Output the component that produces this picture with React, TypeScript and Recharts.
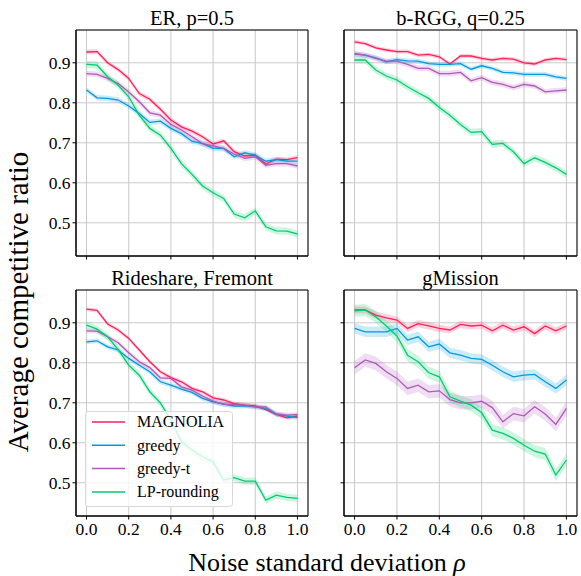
import React from 'react'
import {
  ComposedChart,
  Line,
  Area,
  XAxis,
  YAxis,
  CartesianGrid,
  ReferenceArea,
} from 'recharts'

// noise levels on the x axis
const rhos = [
  0.0, 0.05, 0.1, 0.15, 0.2, 0.25, 0.3, 0.35, 0.4, 0.45, 0.5, 0.55, 0.6, 0.65,
  0.7, 0.75, 0.8, 0.85, 0.9, 0.95, 1.0,
]
const xTicks = [0, 0.2, 0.4, 0.6, 0.8, 1.0]
const yTicks = [0.5, 0.6, 0.7, 0.8, 0.9]

const algoNames = ['MAGNOLIA', 'greedy', 'greedy-t', 'LP-rounding']
const algoColors = ['#ff1f5b', '#009ade', '#af58ba', '#00cd6c']

// ER, p=0.5
const erMagnolia = [0.927, 0.928, 0.9, 0.883, 0.861, 0.823, 0.809, 0.784, 0.757, 0.74, 0.729, 0.715, 0.697, 0.705, 0.678, 0.667, 0.669, 0.647, 0.659, 0.658, 0.663]
const erGreedy = [0.832, 0.8125, 0.811, 0.807, 0.792, 0.773, 0.751, 0.754, 0.736, 0.723, 0.704, 0.698, 0.686, 0.686, 0.665, 0.675, 0.669, 0.654, 0.658, 0.654, 0.654]
const erGreedyT = [0.873, 0.871, 0.861, 0.848, 0.827, 0.8025, 0.775, 0.769, 0.746, 0.732, 0.715, 0.698, 0.692, 0.686, 0.672, 0.661, 0.665, 0.644, 0.648, 0.648, 0.642]
const erLp = [0.896, 0.894, 0.865, 0.844, 0.815, 0.769, 0.736, 0.719, 0.686, 0.648, 0.621, 0.592, 0.575, 0.561, 0.522, 0.5125, 0.53, 0.49, 0.48, 0.479, 0.472]
const erBand = [0.006, 0.007, 0.007, 0.009]

// b-RGG, q=0.25
const rggMagnolia = [0.9525, 0.948, 0.9375, 0.932, 0.928, 0.928, 0.919, 0.921, 0.915, 0.897, 0.917, 0.917, 0.911, 0.907, 0.911, 0.909, 0.9, 0.897, 0.907, 0.911, 0.908]
const rggGreedy = [0.923, 0.919, 0.9125, 0.9025, 0.908, 0.905, 0.904, 0.898, 0.896, 0.896, 0.898, 0.884, 0.8925, 0.886, 0.876, 0.875, 0.871, 0.871, 0.871, 0.865, 0.861]
const rggGreedyT = [0.922, 0.919, 0.911, 0.904, 0.904, 0.896, 0.886, 0.886, 0.873, 0.873, 0.876, 0.855, 0.863, 0.851, 0.846, 0.838, 0.846, 0.842, 0.8275, 0.83, 0.832]
const rggLp = [0.907, 0.907, 0.882, 0.867, 0.857, 0.84, 0.825, 0.811, 0.788, 0.769, 0.746, 0.726, 0.728, 0.696, 0.6985, 0.6775, 0.648, 0.6625, 0.651, 0.6375, 0.621]
const rggBand = [0.005, 0.006, 0.007, 0.009]

// Rideshare, Fremont
const rsMagnolia = [0.934, 0.931, 0.897, 0.882, 0.861, 0.832, 0.8025, 0.7775, 0.763, 0.7525, 0.736, 0.7275, 0.7125, 0.707, 0.698, 0.694, 0.6925, 0.683, 0.671, 0.6625, 0.667]
const rsGreedy = [0.8525, 0.855, 0.84, 0.832, 0.811, 0.794, 0.7775, 0.7525, 0.744, 0.734, 0.726, 0.711, 0.7025, 0.697, 0.692, 0.6925, 0.69, 0.686, 0.671, 0.667, 0.663]
const rsGreedyT = [0.88, 0.879, 0.865, 0.85, 0.825, 0.8025, 0.788, 0.7625, 0.761, 0.74, 0.7315, 0.717, 0.704, 0.696, 0.696, 0.694, 0.69, 0.69, 0.672, 0.669, 0.671]
const rsLp = [0.894, 0.884, 0.865, 0.833, 0.794, 0.769, 0.7275, 0.7, 0.657, 0.6025, 0.582, 0.565, 0.5525, 0.507, 0.513, 0.504, 0.504, 0.4565, 0.469, 0.4635, 0.461]
const rsBand = [0.005, 0.006, 0.006, 0.009]

// gMission
const gmMagnolia = [0.932, 0.932, 0.919, 0.9125, 0.907, 0.886, 0.898, 0.8925, 0.886, 0.882, 0.896, 0.892, 0.894, 0.88, 0.894, 0.882, 0.89, 0.873, 0.892, 0.88, 0.892]
const gmGreedy = [0.886, 0.8775, 0.8775, 0.8775, 0.886, 0.857, 0.865, 0.84, 0.847, 0.825, 0.819, 0.811, 0.8085, 0.794, 0.7775, 0.765, 0.769, 0.771, 0.7525, 0.736, 0.757]
const gmGreedyT = [0.7875, 0.807, 0.7985, 0.7775, 0.761, 0.736, 0.744, 0.7275, 0.73, 0.708, 0.7, 0.7, 0.704, 0.688, 0.6525, 0.673, 0.6675, 0.69, 0.672, 0.646, 0.686]
const gmLp = [0.93, 0.932, 0.915, 0.892, 0.867, 0.819, 0.8025, 0.775, 0.765, 0.715, 0.704, 0.694, 0.675, 0.6315, 0.6235, 0.611, 0.594, 0.579, 0.572, 0.5195, 0.557]
const gmBand = [0.009, 0.013, 0.017, 0.015]

const FONT = "'Liberation Serif', 'Times New Roman', serif"
const X_DOMAIN: [number, number] = [-0.05, 1.05]
const Y_DOMAIN: [number, number] = [0.417, 0.982]
const Y_AXIS_W = 60
const X_AXIS_H = 40
const PAD = 5

const textStyle = (size: number) => ({ fontFamily: FONT, fontSize: size })

interface PanelProps {
  title: string
  series: number[][]
  band: number[]
  left: number
  top: number
  width: number
  height: number
  xLabels: boolean
  yLabels: boolean
}

function buildRows(series: number[][], band: number[]) {
  return rhos.map((x, i) => {
    const row: Record<string, any> = { x }
    series.forEach((vals, j) => {
      row['s' + j] = vals[i]
      row['b' + j] = [vals[i] - band[j], vals[i] + band[j]]
    })
    return row
  })
}

function Panel({ series, band, left, top, width, height, xLabels, yLabels }: PanelProps) {
  const rows = buildRows(series, band)

  const xTick = (props: any) => {
    if (!xLabels) return <g />
    return (
      <text x={props.x} y={props.y} dy="0.7em" textAnchor="middle" style={textStyle(17.5)} fill="#000">
        {Number(props.payload.value).toFixed(1)}
      </text>
    )
  }
  const yTick = (props: any) => {
    if (!yLabels) return <g />
    return (
      <text x={props.x} y={props.y} dy="0.34em" textAnchor="end" style={textStyle(17.5)} fill="#000">
        {Number(props.payload.value).toFixed(1)}
      </text>
    )
  }

  return (
    <div style={{ position: 'absolute', left: left - Y_AXIS_W, top: top - PAD }}>
      <ComposedChart
        width={Y_AXIS_W + width + PAD}
        height={PAD + height + X_AXIS_H}
        data={rows}
        margin={{ top: PAD, right: PAD, left: 0, bottom: 0 }}
      >
        <CartesianGrid stroke="#c9c9c9" strokeWidth={1} />
        <XAxis
          dataKey="x"
          type="number"
          domain={X_DOMAIN}
          ticks={xTicks}
          height={X_AXIS_H}
          tickSize={3.5}
          tickMargin={3}
          stroke="#000"
          tick={xTick}
          allowDataOverflow
        />
        <YAxis
          type="number"
          domain={Y_DOMAIN}
          ticks={yTicks}
          width={Y_AXIS_W}
          tickSize={3.5}
          tickMargin={2}
          stroke="#000"
          tick={yTick}
          allowDataOverflow
        />
        {series.map((_, j) => (
          <Area
            key={'b' + j}
            dataKey={'b' + j}
            type="linear"
            stroke="none"
            fill={algoColors[j]}
            fillOpacity={0.2}
            isAnimationActive={false}
            activeDot={false}
            legendType="none"
          />
        ))}
        {series.map((_, j) => (
          <Line
            key={'s' + j}
            dataKey={'s' + j}
            name={algoNames[j]}
            type="linear"
            stroke={algoColors[j]}
            strokeWidth={1.3}
            dot={false}
            activeDot={false}
            isAnimationActive={false}
          />
        ))}
        <ReferenceArea
          x1={X_DOMAIN[0]}
          x2={X_DOMAIN[1]}
          y1={Y_DOMAIN[0]}
          y2={Y_DOMAIN[1]}
          fill="none"
          stroke="#000"
          strokeWidth={1}
          ifOverflow="visible"
        />
      </ComposedChart>
    </div>
  )
}

function LegendBox({ left, top }: { left: number; top: number }) {
  const rowH = 23.3
  return (
    <svg
      width={150}
      height={98}
      style={{ position: 'absolute', left: left - 1, top: top - 1 }}
    >
      <rect
        x={1.5}
        y={1.5}
        width={147}
        height={95}
        rx={3}
        fill="#fff"
        fillOpacity={0.8}
        stroke="#d8d8d8"
        strokeWidth={1}
      />
      {algoNames.map((name, j) => {
        const cy = 12 + j * rowH
        return (
          <g key={name}>
            <line x1={8} x2={41} y1={cy} y2={cy} stroke={algoColors[j]} strokeWidth={1.5} />
            <text x={53} y={cy} dy="0.33em" style={textStyle(16)} fill="#000">
              {name}
            </text>
          </g>
        )
      })}
    </svg>
  )
}

export default function App() {
  const panels = [
    { title: 'ER, p=0.5', series: [erMagnolia, erGreedy, erGreedyT, erLp], band: erBand, left: 76, top: 30, width: 232, xLabels: false, yLabels: true },
    { title: 'b-RGG, q=0.25', series: [rggMagnolia, rggGreedy, rggGreedyT, rggLp], band: rggBand, left: 344, top: 30, width: 233, xLabels: false, yLabels: false },
    { title: 'Rideshare, Fremont', series: [rsMagnolia, rsGreedy, rsGreedyT, rsLp], band: rsBand, left: 76, top: 290, width: 232, xLabels: true, yLabels: true },
    { title: 'gMission', series: [gmMagnolia, gmGreedy, gmGreedyT, gmLp], band: gmBand, left: 344, top: 290, width: 233, xLabels: true, yLabels: false },
  ]
  const plotH = 226

  return (
    <div style={{ position: 'absolute', left: 0, top: 0, width: 581, height: 576, background: '#fff', fontFamily: FONT }}>
      {panels.map((p) => (
        <Panel key={p.title} {...p} height={plotH} />
      ))}
      <LegendBox left={85} top={411} />
      <svg width={581} height={576} style={{ position: 'absolute', left: 0, top: 0, pointerEvents: 'none' }}>
        {panels.map((p) => (
          <text
            key={p.title}
            x={p.left + p.width / 2}
            y={p.top - 5}
            textAnchor="middle"
            style={textStyle(20.5)}
            fill="#000"
          >
            {p.title}
          </text>
        ))}
        <text
          transform="translate(28,302) rotate(-90)"
          textAnchor="middle"
          style={textStyle(29)}
          fill="#000"
        >
          Average competitive ratio
        </text>
        <text x={327} y={571} textAnchor="middle" style={textStyle(26)} fill="#000">
          Noise standard deviation <tspan fontStyle="italic">ρ</tspan>
        </text>
      </svg>
    </div>
  )
}
